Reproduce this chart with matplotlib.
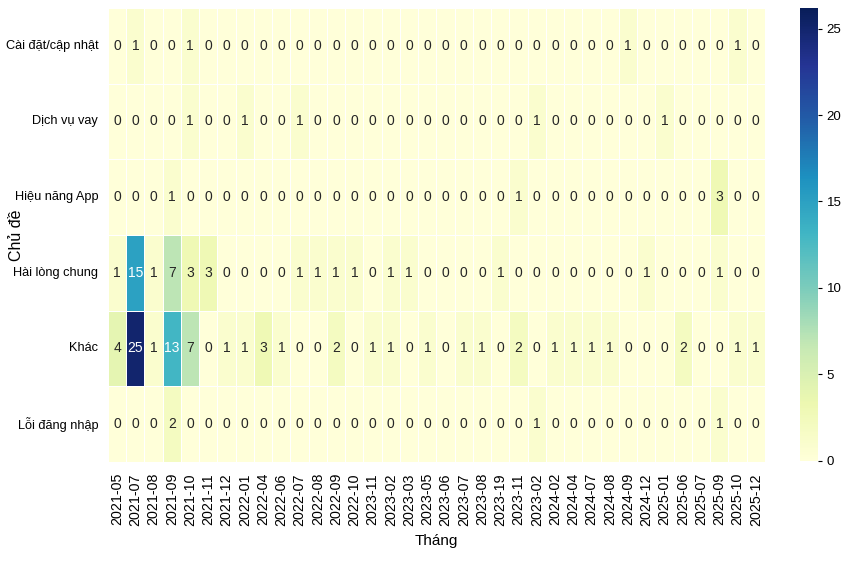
import matplotlib
matplotlib.use("Agg")
import matplotlib.pyplot as plt
import seaborn as sns
import numpy as np

months = ["2021-05", "2021-07", "2021-08", "2021-09", "2021-10", "2021-11", "2021-12",
          "2022-01", "2022-04", "2022-06", "2022-07", "2022-08", "2022-09", "2022-10",
          "2023-11", "2023-02", "2023-03", "2023-05", "2023-06", "2023-07", "2023-08",
          "2023-19", "2023-11", "2023-02", "2024-02", "2024-04", "2024-07", "2024-08",
          "2024-09", "2024-12", "2025-01", "2025-06", "2025-07", "2025-09", "2025-10",
          "2025-12"]

topics = ["Cài đặt/cập nhật", "Dịch vụ vay", "Hiệu năng App", "Hài lòng chung", "Khác", "Lỗi đăng nhập"]

cai_dat = [0, 1, 0, 0, 1, 0, 0, 0, 0, 0, 0, 0, 0, 0, 0, 0, 0, 0, 0, 0, 0, 0, 0, 0, 0, 0, 0, 0, 1, 0, 0, 0, 0, 0, 1, 0]
dich_vu_vay = [0, 0, 0, 0, 1, 0, 0, 1, 0, 0, 1, 0, 0, 0, 0, 0, 0, 0, 0, 0, 0, 0, 0, 1, 0, 0, 0, 0, 0, 0, 1, 0, 0, 0, 0, 0]
hieu_nang = [0, 0, 0, 1, 0, 0, 0, 0, 0, 0, 0, 0, 0, 0, 0, 0, 0, 0, 0, 0, 0, 0, 1, 0, 0, 0, 0, 0, 0, 0, 0, 0, 0, 3, 0, 0]
hai_long = [1, 15, 1, 7, 3, 3, 0, 0, 0, 0, 1, 1, 1, 1, 0, 1, 1, 0, 0, 0, 0, 1, 0, 0, 0, 0, 0, 0, 0, 1, 0, 0, 0, 1, 0, 0]
khac = [4, 25, 1, 13, 7, 0, 1, 1, 3, 1, 0, 0, 2, 0, 1, 1, 0, 1, 0, 1, 1, 0, 2, 0, 1, 1, 1, 1, 0, 0, 0, 2, 0, 0, 1, 1]
loi_dang_nhap = [0, 0, 0, 2, 0, 0, 0, 0, 0, 0, 0, 0, 0, 0, 0, 0, 0, 0, 0, 0, 0, 0, 0, 1, 0, 0, 0, 0, 0, 0, 0, 0, 0, 1, 0, 0]

data = np.array([cai_dat, dich_vu_vay, hieu_nang, hai_long, khac, loi_dang_nhap])

plt.rcParams['font.family'] = ['Liberation Sans', 'DejaVu Sans']

fig = plt.figure(figsize=(8.5, 5.64), dpi=100)
ax = fig.add_axes([0.127, 0.181, 0.773, 0.805])
cax = fig.add_axes([0.941, 0.183, 0.021, 0.803])

sns.heatmap(data, ax=ax, cbar_ax=cax, cmap="YlGnBu", vmin=0, vmax=26.2,
            annot=True, fmt="d", annot_kws={"fontsize": 10},
            linewidths=0.5, linecolor="white",
            xticklabels=months, yticklabels=topics)

ax.set_xticklabels(months, rotation=90, fontsize=10.3)
ax.set_yticklabels(topics, rotation=0, fontsize=9.2)
ax.set_xlabel("Tháng", fontsize=11, labelpad=6)
ax.set_ylabel("Chủ đề", fontsize=11.5)
ax.yaxis.set_label_coords(-0.128, 0.5)
ax.tick_params(axis='x', length=0, pad=8)
ax.tick_params(axis='y', length=0, pad=7)
cax.set_yticks([0, 5, 10, 15, 20, 25])
cax.tick_params(labelsize=9.5, length=3)

fig.savefig("out.png", dpi=100)
